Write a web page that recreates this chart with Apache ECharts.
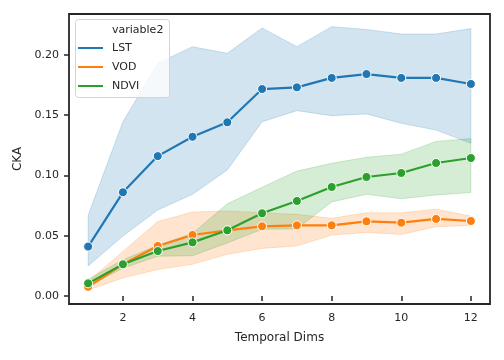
<!DOCTYPE html>
<html>
<head>
<meta charset="utf-8">
<script src="https://cdn.jsdelivr.net/npm/echarts@6/dist/echarts.min.js"></script>
<style>html,body{margin:0;padding:0;background:#fff}#c{width:504px;height:360px}</style>
</head>
<body>
<div id="c"></div>
<script>
const dims = [1, 2, 3, 4, 5, 6, 7, 8, 9, 10, 11, 12];
const lstMean = [0.041, 0.086, 0.116, 0.132, 0.144, 0.1716, 0.173, 0.1808, 0.184, 0.1808, 0.1808, 0.1758];
const lstLo   = [0.025, 0.0497, 0.0713, 0.0843, 0.1045, 0.1445, 0.1537, 0.1495, 0.151, 0.1432, 0.1376, 0.1266];
const lstHi   = [0.067, 0.1445, 0.193, 0.2067, 0.2012, 0.2222, 0.2067, 0.2233, 0.221, 0.2172, 0.2172, 0.2217];
const vodMean = [0.0077, 0.0263, 0.0415, 0.0506, 0.0545, 0.0578, 0.0586, 0.0586, 0.0619, 0.0608, 0.0639, 0.0622];
const vodLo   = [0.005, 0.015, 0.022, 0.0263, 0.0346, 0.0395, 0.0415, 0.0505, 0.0527, 0.0511, 0.0575, 0.0585];
const vodHi   = [0.012, 0.037, 0.0617, 0.0697, 0.0705, 0.069, 0.0677, 0.0644, 0.069, 0.069, 0.072, 0.0663];
const ndviMean = [0.0105, 0.0263, 0.0373, 0.0445, 0.0545, 0.0686, 0.0788, 0.0904, 0.0987, 0.102, 0.1103, 0.1144];
const ndviLo   = [0.008, 0.023, 0.033, 0.0334, 0.044, 0.0553, 0.0556, 0.078, 0.0843, 0.0807, 0.0837, 0.0858];
const ndviHi   = [0.014, 0.030, 0.042, 0.052, 0.0765, 0.0902, 0.1036, 0.110, 0.115, 0.1176, 0.1282, 0.1305];
const xTicks = [2, 4, 6, 8, 10, 12];
const yTicks = [0.00, 0.05, 0.10, 0.15, 0.20];

const colors = { LST: '#1f77b4', VOD: '#ff7f0e', NDVI: '#2ca02c' };
const bandAlpha = { '#1f77b4': 'rgba(31,119,180,', '#ff7f0e': 'rgba(255,127,14,', '#2ca02c': 'rgba(44,160,44,' };
const txt = '#262626';
const font = 'DejaVu Sans';

function band(name, lo, hi, color) {
  return {
    name: name + ' band',
    type: 'custom',
    z: 1,
    silent: true,
    clip: true,
    data: dims.map((d, i) => [d, lo[i], hi[i]]),
    encode: { x: 0, y: [1, 2] },
    renderItem: function (params, api) {
      if (params.dataIndex !== 0) return null;
      const pts = [];
      for (let i = 0; i < dims.length; i++) pts.push(api.coord([dims[i], hi[i]]));
      for (let i = dims.length - 1; i >= 0; i--) pts.push(api.coord([dims[i], lo[i]]));
      return {
        type: 'polygon',
        shape: { points: pts },
        style: { fill: bandAlpha[color] + '0.2)', stroke: bandAlpha[color] + '0.2)', lineWidth: 1 }
      };
    }
  };
}
function line(name, mean, z) {
  return {
    name: name,
    type: 'line',
    z: z,
    data: dims.map((d, i) => [d, mean[i]]),
    symbol: 'circle',
    symbolSize: 9,
    showSymbol: true,
    lineStyle: { color: colors[name], width: 2.2 },
    itemStyle: { color: colors[name], borderColor: '#fff', borderWidth: 1 },
    emphasis: { disabled: true },
    animation: false
  };
}

const chart = echarts.init(document.getElementById('c'), null, { renderer: 'canvas' });
chart.setOption({
  animation: false,
  textStyle: { fontFamily: font },
  grid: { left: 69, right: 14, top: 14, bottom: 56, show: true, borderColor: txt, borderWidth: 1.8, backgroundColor: 'transparent' },
  xAxis: {
    type: 'value', min: 0.45, max: 12.55,
    axisLine: { show: false },
    splitLine: { show: false },
    axisTick: { show: true, customValues: xTicks, length: 5, lineStyle: { color: txt, width: 1.5 } },
    axisLabel: { customValues: xTicks, fontSize: 11, color: txt, margin: 9, fontFamily: font, formatter: v => String(v) },
    name: 'Temporal Dims', nameLocation: 'middle', nameGap: 28,
    nameTextStyle: { fontSize: 12, color: txt, fontFamily: font }
  },
  yAxis: {
    type: 'value', min: -0.0066, max: 0.2338,
    axisLine: { show: false },
    splitLine: { show: false },
    axisTick: { show: true, customValues: yTicks, length: 5, lineStyle: { color: txt, width: 1.5 } },
    axisLabel: { customValues: yTicks, fontSize: 11, color: txt, margin: 10, fontFamily: font, formatter: v => v.toFixed(2) },
    name: 'CKA', nameLocation: 'middle', nameGap: 41,
    nameTextStyle: { fontSize: 12, color: txt, fontFamily: font }
  },
  legend: {
    data: [
      { name: 'LST', itemStyle: { color: colors.LST, borderWidth: 0 } },
      { name: 'VOD', itemStyle: { color: colors.VOD, borderWidth: 0 } },
      { name: 'NDVI', itemStyle: { color: colors.NDVI, borderWidth: 0 } }
    ],
    orient: 'vertical',
    left: 73, top: 33.5,
    icon: 'rect', itemWidth: 25, itemHeight: 2, itemGap: 0,
    itemStyle: { borderWidth: 0 },
    textStyle: { fontSize: 11, color: txt, fontFamily: font, lineHeight: 19, padding: [0, 0, 0, 4] },
    selectedMode: false,
    z: 200
  },
  graphic: [
    { type: 'rect', z: 150, shape: { x: 75.5, y: 19.5, width: 94, height: 78, r: 3 },
      style: { fill: 'rgba(255,255,255,0.8)', stroke: '#d4d4d4', lineWidth: 1 } },
    { type: 'text', z: 151, x: 112, y: 30, style: { text: 'variable2', font: '11px "DejaVu Sans"', fill: txt, verticalAlign: 'middle', align: 'left' } }
  ],
  series: [
    band('LST', lstLo, lstHi, colors.LST),
    band('VOD', vodLo, vodHi, colors.VOD),
    band('NDVI', ndviLo, ndviHi, colors.NDVI),
    line('LST', lstMean, 3),
    line('VOD', vodMean, 4),
    line('NDVI', ndviMean, 5)
  ]
});
</script>
</body>
</html>
